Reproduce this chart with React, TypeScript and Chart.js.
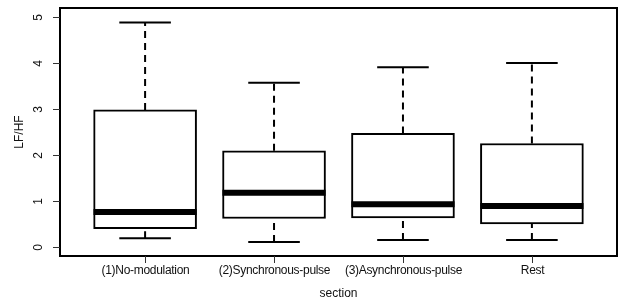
import React, { useEffect, useRef } from "react";
import { Chart, registerables } from "chart.js";

Chart.register(...registerables);

const categories = ["(1)No-modulation", "(2)Synchronous-pulse", "(3)Asynchronous-pulse", "Rest"];
const whiskerLow = [0.19, 0.11, 0.15, 0.15];
const quartile1 = [0.40, 0.62, 0.63, 0.50];
const medians = [0.76, 1.18, 0.93, 0.89];
const quartile3 = [2.98, 2.09, 2.47, 2.25];
const whiskerHigh = [4.88, 3.57, 3.91, 4.00];
const yTicks = [0, 1, 2, 3, 4, 5];
const xTitle = "section";
const yTitle = "LF/HF";

const FONT = "12px 'Liberation Sans', Arial, sans-serif";
const INK = "#111";

const axesPlugin = {
  id: "rAxes",
  afterDatasetsDraw(chart: any) {
    const { ctx, chartArea, scales } = chart;
    const xs = scales.x;
    const ys = scales.y;
    ctx.save();
    // frame
    ctx.strokeStyle = "#000";
    ctx.lineWidth = 2;
    ctx.strokeRect(chartArea.left, chartArea.top, chartArea.right - chartArea.left, chartArea.bottom - chartArea.top);
    // y ticks
    ctx.lineWidth = 1;
    ctx.strokeStyle = "#333";
    ctx.fillStyle = INK;
    ctx.font = FONT;
    yTicks.forEach((v) => {
      const py = Math.round(ys.getPixelForValue(v)) + 0.5;
      ctx.beginPath();
      ctx.moveTo(chartArea.left - 7, py);
      ctx.lineTo(chartArea.left, py);
      ctx.stroke();
      ctx.save();
      ctx.translate(39, py);
      ctx.rotate(-Math.PI / 2);
      ctx.textAlign = "center";
      ctx.textBaseline = "middle";
      ctx.fillText(String(v), 0, 0);
      ctx.restore();
    });
    // x ticks
    ctx.save();
    (ctx as any).letterSpacing = "-0.3px";
    categories.forEach((c, i) => {
      const px = Math.round(xs.getPixelForValue(i + 1)) + 0.5;
      ctx.beginPath();
      ctx.moveTo(px, chartArea.bottom);
      ctx.lineTo(px, chartArea.bottom + 7);
      ctx.stroke();
      ctx.textAlign = "center";
      ctx.textBaseline = "middle";
      ctx.fillText(c, px, 270.5);
    });
    ctx.restore();
    // titles
    ctx.textAlign = "center";
    ctx.textBaseline = "middle";
    ctx.fillText(xTitle, (chartArea.left + chartArea.right) / 2, 294);
    ctx.save();
    ctx.translate(20, (chartArea.top + chartArea.bottom) / 2);
    ctx.rotate(-Math.PI / 2);
    ctx.fillText(yTitle, 0, 0);
    ctx.restore();
    ctx.restore();
  },
};

function segments(pairs: Array<[number, number, number, number]>) {
  const out: any[] = [];
  pairs.forEach(([x1, y1, x2, y2]) => {
    out.push({ x: x1, y: y1 });
    out.push({ x: x2, y: y2 });
    out.push({ x: (x1 + x2) / 2, y: null });
  });
  return out;
}

export default function App() {
  const ref = useRef<HTMLCanvasElement>(null);
  useEffect(() => {
    document.body.style.margin = "0";
    const idx = categories.map((_, i) => i + 1);
    const boxes = idx.map((x, i) => ({ x, y: [quartile1[i], quartile3[i]] }));
    const whiskers = segments(
      idx.flatMap((x, i) => [
        [x, quartile3[i], x, whiskerHigh[i]] as [number, number, number, number],
        [x, whiskerLow[i], x, quartile1[i]] as [number, number, number, number],
      ])
    );
    const caps = segments(
      idx.flatMap((x, i) => [
        [x - 0.2, whiskerHigh[i], x + 0.2, whiskerHigh[i]] as [number, number, number, number],
        [x - 0.2, whiskerLow[i], x + 0.2, whiskerLow[i]] as [number, number, number, number],
      ])
    );
    const meds = segments(idx.map((x, i) => [x - 0.4, medians[i], x + 0.4, medians[i]] as [number, number, number, number]));
    const lineBase = { type: "line", pointRadius: 0, borderColor: "#000", spanGaps: false, tension: 0, borderCapStyle: "butt", fill: false };
    const chart = new Chart(ref.current as HTMLCanvasElement, {
      data: {
        datasets: [
          { ...lineBase, data: meds, borderWidth: 6, order: 0 } as any,
          { ...lineBase, data: caps, borderWidth: 2, order: 1 } as any,
          { ...lineBase, data: whiskers, borderWidth: 2, borderDash: [7, 5], order: 2 } as any,
          {
            type: "bar",
            data: boxes,
            backgroundColor: "#fff",
            borderColor: "#000",
            borderWidth: 2,
            borderSkipped: false,
            barThickness: 103,
            order: 3,
          } as any,
        ],
      },
      options: {
        responsive: false,
        animation: false,
        layout: { padding: { left: 60, right: 2, top: 8, bottom: 44 } },
        plugins: { legend: { display: false }, tooltip: { enabled: false } },
        scales: {
          x: { type: "linear", display: false, offset: false, min: 0.34, max: 4.66 },
          y: { type: "linear", display: false, min: -0.196, max: 5.196 },
        },
      } as any,
      plugins: [axesPlugin],
    });
    return () => chart.destroy();
  }, []);
  return (
    <div style={{ position: "absolute", left: 0, top: 0, width: 619, height: 300, background: "#fff" }}>
      <canvas ref={ref} width={619} height={300} />
    </div>
  );
}
